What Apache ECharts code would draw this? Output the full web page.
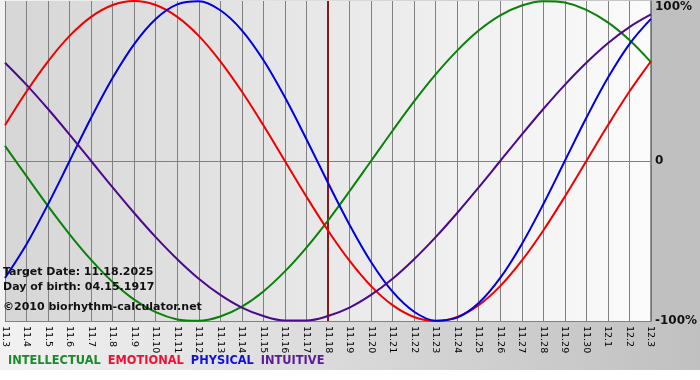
<!DOCTYPE html>
<html>
<head>
<meta charset="utf-8">
<script src="https://cdn.jsdelivr.net/npm/echarts@6/dist/echarts.min.js"></script>
<style>html,body{margin:0;padding:0;background:#fff;}#c{width:700px;height:380px;}</style>
</head>
<body>
<div id="c"></div>
<script>
const dates = ['11.3','11.4','11.5','11.6','11.7','11.8','11.9','11.10','11.11','11.12','11.13','11.14','11.15','11.16','11.17','11.18','11.19','11.20','11.21','11.22','11.23','11.24','11.25','11.26','11.27','11.28','11.29','11.30','12.1','12.2','12.3'];
const intellectual = [0.095,-0.095,-0.282,-0.458,-0.618,-0.756,-0.866,-0.945,-0.990,-0.999,-0.972,-0.910,-0.815,-0.690,-0.541,-0.372,-0.189,0.000,0.189,0.372,0.541,0.690,0.815,0.910,0.972,0.999,0.990,0.945,0.866,0.756,0.618];
const emotional = [0.223,0.434,0.623,0.782,0.901,0.975,1.000,0.975,0.901,0.782,0.623,0.434,0.223,0.000,-0.223,-0.434,-0.623,-0.782,-0.901,-0.975,-1.000,-0.975,-0.901,-0.782,-0.623,-0.434,-0.223,0.000,0.223,0.434,0.623];
const physical = [-0.731,-0.520,-0.270,0.000,0.270,0.520,0.731,0.888,0.979,0.998,0.942,0.817,0.631,0.398,0.136,-0.136,-0.398,-0.631,-0.817,-0.942,-0.998,-0.979,-0.888,-0.731,-0.520,-0.270,0.000,0.270,0.520,0.731,0.888];
const intuitive = [0.614,0.476,0.325,0.165,0.000,-0.165,-0.325,-0.476,-0.614,-0.736,-0.837,-0.916,-0.969,-0.997,-0.997,-0.969,-0.916,-0.837,-0.736,-0.614,-0.476,-0.325,-0.165,0.000,0.165,0.325,0.476,0.614,0.736,0.837,0.916];
const yTicks = {'-1':'-100%','0':'0','1':'100%'};
const targetDay = '11.18';
const infoLines = ['Target Date: 11.18.2025','Day of birth: 04.15.1917','\u00a92010 biorhythm-calculator.net'];
const seriesNames = ['INTELLECTUAL','EMOTIONAL','PHYSICAL','INTUITIVE'];
const seriesColors = ['#0a820a','#f00000','#0000e0','#4b0a8c'];
const legendColors = ['#1a8a2a','#ee1133','#1010dd','#5a1a9a'];

const FONT = '"DejaVu Sans", Verdana, sans-serif';
const chart = echarts.init(document.getElementById('c'), null, {renderer:'canvas'});
const vals = [intellectual, emotional, physical, intuitive];

const series = seriesNames.map((n,i)=>({
  name:n, type:'line', data:vals[i], smooth:0.35, showSymbol:false, symbol:'none',
  lineStyle:{color:seriesColors[i], width:2}, itemStyle:{color:seriesColors[i]}, z:3
}));
series[3].markLine = {
  silent:true, symbol:['none','none'], label:{show:false},
  lineStyle:{color:'#8a1a1a', width:2, type:'solid'},
  data:[{xAxis:targetDay}], z:2
};

chart.setOption({
  animation:false,
  backgroundColor:{type:'linear',x:0,y:0,x2:1,y2:0,colorStops:[{offset:0,color:'#f2f2f2'},{offset:1,color:'#c0c0c0'}]},
  graphic:[
    {type:'rect', z:-10, shape:{x:0,y:370,width:700,height:10}, style:{fill:'#ffffff'}},
    {type:'rect', z:-10, shape:{x:651,y:0,width:49,height:322}, style:{fill:'#c0c0c0'}},
    {type:'text', left:3, top:267, z:10, style:{text:infoLines[0], font:'bold 11px '+FONT, fill:'#111'}},
    {type:'text', left:3, top:282, z:10, style:{text:infoLines[1], font:'bold 11px '+FONT, fill:'#111'}},
    {type:'text', left:3, top:302, z:10, style:{text:infoLines[2], font:'bold 11px '+FONT, fill:'#111'}}
  ],
  legend:{
    left:3, top:351, icon:'rect', itemWidth:0, itemHeight:0, itemGap:7, selectedMode:false,
    data:seriesNames.map((n,i)=>({name:n, textStyle:{color:legendColors[i]}})),
    textStyle:{fontFamily:FONT, fontWeight:'bold', fontSize:11.4, padding:[0,0,0,-5]}
  },
  grid:{left:2, right:49, top:1, bottom:59, show:true, borderWidth:0,
    backgroundColor:{type:'linear',x:0,y:0,x2:1,y2:0,colorStops:[{offset:0,color:'#d6d6d6'},{offset:1,color:'#fbfbfb'}]}},
  xAxis:{
    type:'category', data:dates, boundaryGap:false,
    axisLine:{lineStyle:{color:'#808080',width:1}},
    axisTick:{show:true, length:4, interval:0, lineStyle:{color:'#808080'}},
    splitLine:{show:true, interval:0, lineStyle:{color:'#808080',width:1}},
    axisLabel:{interval:0, rotate:-90, margin:5, fontFamily:FONT, fontSize:9.5, color:'#000'}
  },
  yAxis:{
    type:'value', min:-1, max:1, interval:1, position:'right',
    axisLine:{show:true, lineStyle:{color:'#707070',width:1.5}},
    axisTick:{show:false},
    splitLine:{show:true, lineStyle:{color:['#808080','#808080','rgba(0,0,0,0)'],width:1}},
    axisLabel:{margin:4, fontFamily:FONT, fontWeight:'bold', fontSize:12, color:'#111',
      formatter:v=>{const t=yTicks[String(v)]; return v===1?'{top|'+t+'}':t;},
      rich:{top:{padding:[12,0,0,0], fontFamily:FONT, fontWeight:'bold', fontSize:12, color:'#111'}}}
  },
  series:series
});
</script>
</body>
</html>
